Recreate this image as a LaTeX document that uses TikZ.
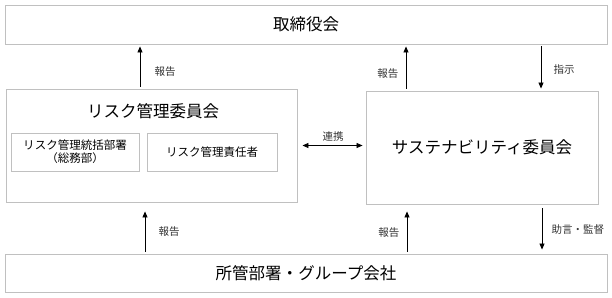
\documentclass[tikz,border=0pt]{standalone}
\usepackage{fontspec}
\setmainfont{Noto Sans CJK JP}
\usepackage{xcolor}
\definecolor{boxgray}{RGB}{192,192,192}
\usetikzlibrary{arrows.meta, positioning}

\tikzset{
  orgbox/.style={draw=boxgray, line width=0.9pt, inner sep=0pt, align=center},
  bigtext/.style={font=\fontsize{16.5}{18}\selectfont},
  flow/.style={-{Triangle[length=6pt,width=5pt]}, line width=0.8pt, shorten <=2pt, shorten >=2pt},
  twoway/.style={{Triangle[length=6pt,width=5pt]}-{Triangle[length=6pt,width=5pt]}, line width=0.8pt},
  lbl/.style={font=\fontsize{10.5}{12}\selectfont, text=black!80}
}

\begin{document}
\begin{tikzpicture}[x=1pt, y=-1pt]
  \useasboundingbox (0,0) rectangle (612,297);

  % Boxes
  \node[orgbox, bigtext, minimum width=602pt, minimum height=39pt] (board) at (306,24.5) {取締役会};
  \node[orgbox, minimum width=291pt, minimum height=113pt] (risk) at (151.5,145.5) {};
  \node[bigtext] (risktitle) at (153,111) {リスク管理委員会};
  \node[orgbox, minimum width=128pt, minimum height=38pt, font=\fontsize{11.5}{13}\selectfont] (riskdept) at (75,152) {リスク管理統括部署\\（総務部）};
  \node[orgbox, minimum width=130pt, minimum height=38pt, font=\fontsize{11.5}{13}\selectfont] (riskmgr) at (212,152) {リスク管理責任者};
  \node[orgbox, bigtext, minimum width=232pt, minimum height=113pt] (sust) at (482,147.5) {サステナビリティ委員会};
  \node[orgbox, bigtext, minimum width=602pt, minimum height=38pt] (dept) at (306,273) {所管部署・グループ会社};

  % Arrow positions
  \coordinate (c1) at (140,0);
  \coordinate (c2) at (406,0);
  \coordinate (c3) at (541,0);
  \coordinate (c4) at (145,0);
  \coordinate (c5) at (407,0);
  \coordinate (c6) at (542,0);

  % Board connections
  \draw[flow] (risk.north -| c1) -- (board.south -| c1);
  \node[lbl, anchor=west] (rep1) at (151,72) {報告};
  \draw[flow] (sust.north -| c2) -- (board.south -| c2);
  \node[lbl, anchor=east] (rep2) at (402,74) {報告};
  \draw[flow] (board.south -| c3) -- (sust.north -| c3);
  \node[lbl, anchor=west] (instr) at (550,70) {指示};

  % Link between committees
  \draw[twoway] ([xshift=5pt]risk.east) -- ([xshift=-3pt]risk.east -| sust.west);
  \node[lbl] (link) at (333,137) {連携};

  % Dept connections
  \draw[flow] (dept.north -| c4) -- ([yshift=-7pt]risk.south -| c4);
  \node[lbl, anchor=west] (rep3) at (155,232) {報告};
  \draw[flow] (dept.north -| c5) -- ([yshift=-5pt]sust.south -| c5);
  \node[lbl, anchor=east] (rep4) at (403,233) {報告};
  \draw[flow] ([yshift=-2pt]sust.south -| c6) -- ([yshift=2pt]dept.north -| c6);
  \node[lbl, anchor=west] (advice) at (548,230) {助言・監督};
\end{tikzpicture}
\end{document}
